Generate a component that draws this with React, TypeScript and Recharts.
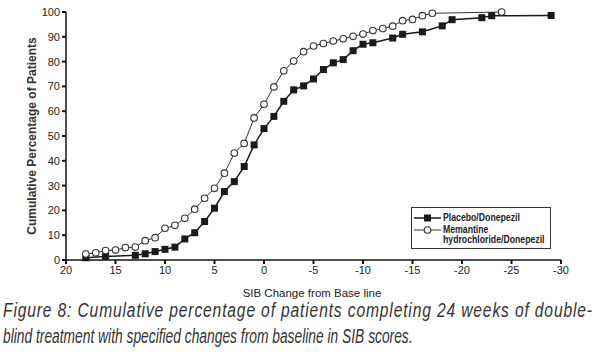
import React from 'react'
import { Line, LineChart, XAxis, YAxis } from 'recharts'

// SIB change from baseline (x) vs cumulative % of patients (y)
const placeboX = [18, 16, 13, 12, 11, 10, 9, 8, 7, 6, 5, 4, 3, 2, 1, 0, -1, -2, -3, -4, -5, -6, -7, -8, -9, -10, -11, -13, -14, -16, -18, -19, -22, -23, -29]
const placeboY = [0.9, 1.4, 1.9, 2.5, 3.4, 4.3, 5.2, 8.5, 11.0, 15.5, 20.9, 27.6, 31.6, 37.7, 46.4, 53.0, 57.9, 64.0, 68.6, 70.2, 73.0, 76.8, 79.5, 80.8, 84.4, 87.0, 87.6, 89.5, 91.0, 92.0, 94.4, 96.9, 97.7, 98.5, 98.6]

const memantineX = [18, 17, 16, 15, 14, 13, 12, 11, 10, 9, 8, 7, 6, 5, 4, 3, 2, 1, 0, -1, -2, -3, -4, -5, -6, -7, -8, -9, -10, -11, -12, -13, -14, -15, -16, -17, -24]
const memantineY = [2.4, 2.9, 3.8, 4.0, 5.0, 5.2, 7.8, 9.0, 12.8, 14.0, 16.8, 20.5, 24.9, 28.9, 35.0, 43.1, 47.0, 57.3, 62.8, 69.8, 76.3, 80.2, 84.0, 86.3, 87.3, 88.3, 89.2, 90.2, 91.1, 92.5, 93.3, 94.3, 96.5, 97.0, 98.5, 99.5, 100]

const xTicks = [20, 15, 10, 5, 0, -5, -10, -15, -20, -25, -30]
const yTicks = [0, 10, 20, 30, 40, 50, 60, 70, 80, 90, 100]

const placeboData = placeboX.map((x, i) => ({ x, y: placeboY[i] }))
const memantineData = memantineX.map((x, i) => ({ x, y: memantineY[i] }))

const axisFont = { fontFamily: 'Liberation Sans, Arial, sans-serif', fontSize: 11, fill: '#222' }

const SquareDot = (props: any) => {
  const { cx, cy, index } = props
  if (cx == null || cy == null) return null
  return <rect key={'sq' + index} x={cx - 3.5} y={cy - 3.5} width={7} height={7} fill="#1a1a1a" />
}

const CircleDot = (props: any) => {
  const { cx, cy, index } = props
  if (cx == null || cy == null) return null
  return <circle key={'ci' + index} cx={cx} cy={cy} r={3.3} fill="#fff" stroke="#333" strokeWidth={1.1} />
}

const legendText = {
  position: 'absolute' as const,
  left: 31,
  whiteSpace: 'nowrap' as const,
  transform: 'scaleX(0.87)',
  transformOrigin: 'left center',
}

const LegendBox = () => (
  <div
    style={{
      position: 'absolute',
      left: 411,
      top: 207,
      width: 140,
      height: 42,
      border: '1px solid #333',
      background: '#fff',
      fontFamily: 'Liberation Sans, Arial, sans-serif',
      fontWeight: 'bold',
      fontSize: 10,
      color: '#222',
      lineHeight: '10px',
      boxSizing: 'border-box',
    }}
  >
    <svg width={30} height={30} style={{ position: 'absolute', left: 1, top: 3 }}>
      <line x1={1} y1={7} x2={28} y2={7} stroke="#1a1a1a" strokeWidth={1.5} />
      <rect x={11} y={3.5} width={7} height={7} fill="#1a1a1a" />
      <line x1={1} y1={19} x2={28} y2={19} stroke="#333" strokeWidth={1} />
      <circle cx={14.5} cy={19} r={3.3} fill="#fff" stroke="#333" strokeWidth={1.1} />
    </svg>
    <div style={{ ...legendText, top: 5 }}>Placebo/Donepezil</div>
    <div style={{ ...legendText, top: 17 }}>
      Memantine
      <br />
      hydrochloride/Donepezil
    </div>
  </div>
)

const captionLine = {
  position: 'absolute' as const,
  left: 3,
  whiteSpace: 'nowrap' as const,
  fontFamily: 'Liberation Sans, Arial, sans-serif',
  fontStyle: 'italic',
  fontSize: 20,
  lineHeight: '26px',
  color: '#333',
  transformOrigin: 'left center',
}

export default function App() {
  return (
    <div style={{ position: 'absolute', left: 0, top: 0, width: 600, height: 355, background: '#fff', overflow: 'hidden' }}>
      <LineChart width={600} height={290} margin={{ top: 12, right: 39, bottom: 0, left: 16 }}>
        <XAxis
          dataKey="x"
          type="number"
          domain={[-30, 20]}
          reversed
          ticks={xTicks}
          interval={0}
          height={30}
          tick={axisFont}
          tickSize={4}
          axisLine={{ stroke: '#111', strokeWidth: 1.5 }}
          tickLine={{ stroke: '#111', strokeWidth: 2 }}
        />
        <YAxis
          dataKey="y"
          type="number"
          domain={[0, 100]}
          ticks={yTicks}
          interval={0}
          width={50}
          tick={axisFont}
          tickSize={4}
          axisLine={{ stroke: '#111', strokeWidth: 1.5 }}
          tickLine={{ stroke: '#111', strokeWidth: 2 }}
        />
        <Line
          data={placeboData}
          dataKey="y"
          stroke="#1a1a1a"
          strokeWidth={1.5}
          dot={SquareDot}
          activeDot={false}
          isAnimationActive={false}
        />
        <Line
          data={memantineData}
          dataKey="y"
          stroke="#333"
          strokeWidth={1}
          dot={CircleDot}
          activeDot={false}
          isAnimationActive={false}
        />
      </LineChart>
      <LegendBox />
      <div
        style={{
          position: 'absolute',
          left: 32,
          top: 136,
          transform: 'translate(-50%, -50%) rotate(-90deg)',
          whiteSpace: 'nowrap',
          fontFamily: 'Liberation Sans, Arial, sans-serif',
          fontSize: 12,
          fontWeight: 'bold',
          color: '#333',
        }}
      >
        Cumulative Percentage of Patients
      </div>
      <div
        style={{
          position: 'absolute',
          left: 312,
          top: 293,
          transform: 'translate(-50%, -50%)',
          whiteSpace: 'nowrap',
          fontFamily: 'Liberation Sans, Arial, sans-serif',
          fontSize: 11.5,
          color: '#222',
        }}
      >
        SIB Change from Base line
      </div>
      <div style={{ ...captionLine, top: 297, transform: 'scaleX(0.78)', letterSpacing: '1.1px' }}>
        Figure 8: Cumulative percentage of patients completing 24 weeks of double-
      </div>
      <div style={{ ...captionLine, top: 323, transform: 'scaleX(0.69)' }}>
        blind treatment with specified changes from baseline in SIB scores.
      </div>
    </div>
  )
}
